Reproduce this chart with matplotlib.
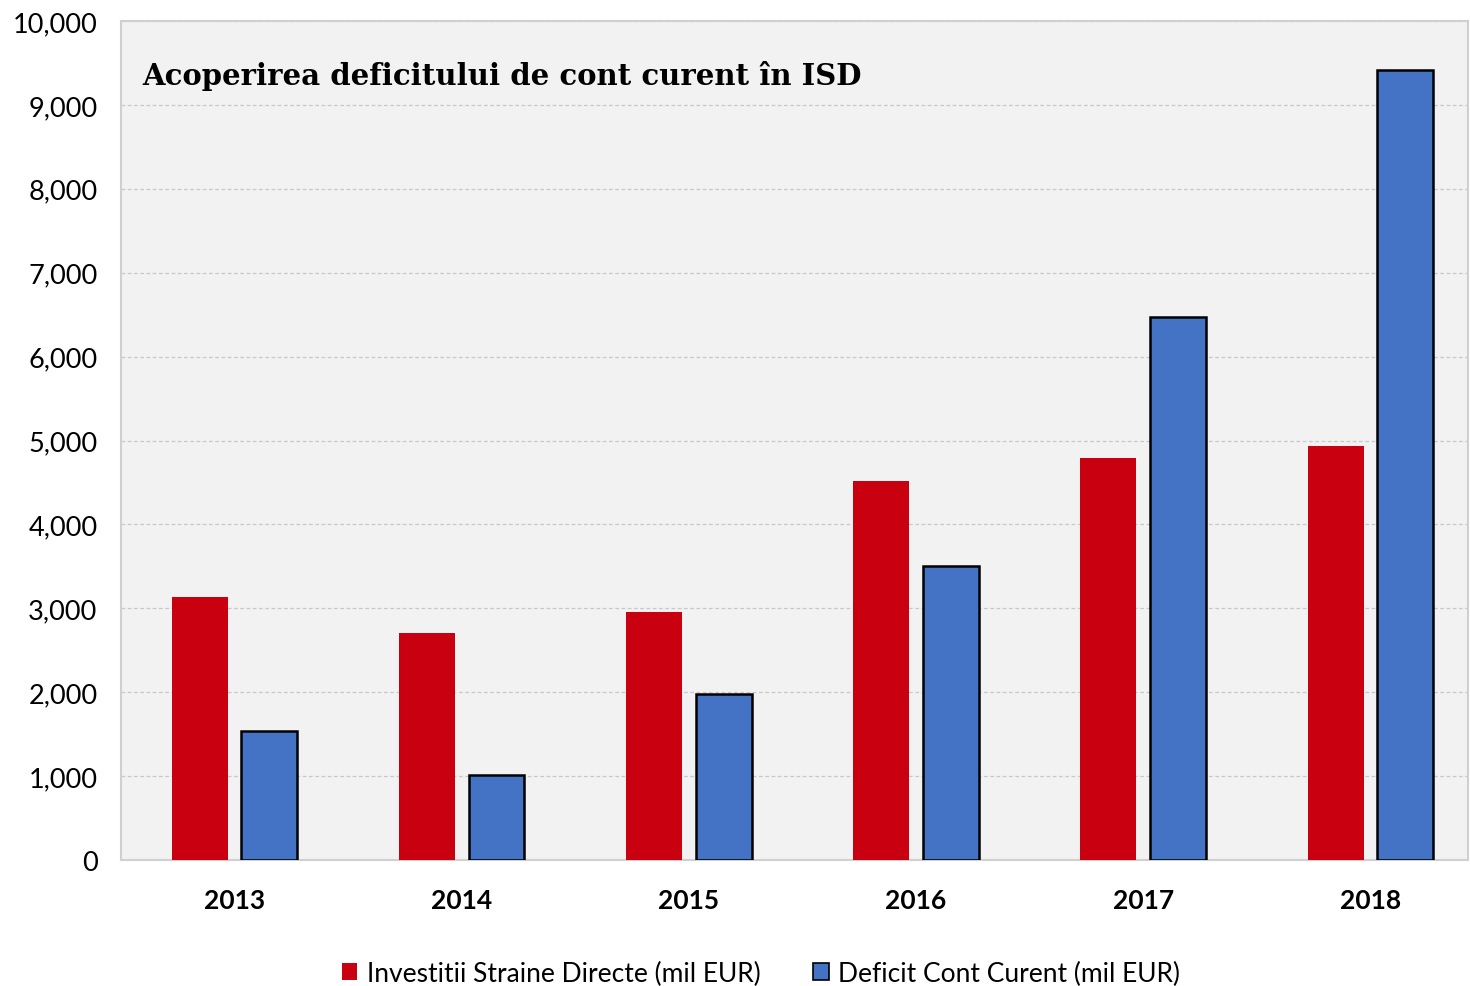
import matplotlib
matplotlib.use("Agg")
import matplotlib.pyplot as plt
import numpy as np
from matplotlib.patches import Patch

years = ["2013", "2014", "2015", "2016", "2017", "2018"]
isd = [3135, 2706, 2956, 4517, 4791, 4934]
deficit = [1538, 1013, 1979, 3504, 6472, 9416]
yticks = [0, 1000, 2000, 3000, 4000, 5000, 6000, 7000, 8000, 9000, 10000]

plt.rcParams['font.family'] = ['Lato', 'DejaVu Sans']

fig = plt.figure(figsize=(14.7, 9.87), dpi=100)
ax = fig.add_axes([121/1470, 126/987, (1468-121)/1470, (861-22)/987])
ax.set_facecolor("#f2f2f2")

x = np.arange(len(years))
w = 0.246
off = 0.153
ax.bar(x - off, isd, width=w, color="#c8000f", edgecolor="none", zorder=3,
       label="Investitii Straine Directe (mil EUR)")
ax.bar(x + off, deficit, width=w, color="#4472c4", edgecolor="black", linewidth=1.8, zorder=3,
       label="Deficit Cont Curent (mil EUR)")

ax.set_xlim(-0.5, 5.43)
ax.set_ylim(0, 10000)
ax.set_yticks(yticks)
ax.set_yticklabels([f"{v:,}" for v in yticks], fontsize=19.5)
ax.set_xticks(x)
ax.set_xticklabels(years, fontsize=19, fontweight="bold")
ax.tick_params(axis='both', length=0)
ax.tick_params(axis='y', pad=17)
ax.tick_params(axis='x', pad=20)
for lab in ax.get_yticklabels():
    lab.set_horizontalalignment('right')
ax.yaxis.grid(True, linestyle=(0, (3, 2)), color="#c8c8c8", linewidth=0.9, zorder=0)
for s in ax.spines.values():
    s.set_color("#d0d0d0")
    s.set_linewidth(1.5)

ax.text(0.016, 0.936, "Acoperirea deficitului de cont curent în ISD",
        transform=ax.transAxes, fontsize=21, fontweight="bold",
        family=["DejaVu Serif"], va="center", ha="left", zorder=5)

handles = [Patch(facecolor="#c8000f", edgecolor="none", label="Investitii Straine Directe (mil EUR)"),
           Patch(facecolor="#4472c4", edgecolor="black", linewidth=1.2, label="Deficit Cont Curent (mil EUR)")]
fig.legend(handles=handles, loc="center", bbox_to_anchor=(761/1470, 1 - 974/987), ncol=2,
           frameon=False, fontsize=19, handlelength=0.6, handleheight=0.6,
           handletextpad=0.35, columnspacing=2.0)

fig.savefig("out.png", dpi=100)
